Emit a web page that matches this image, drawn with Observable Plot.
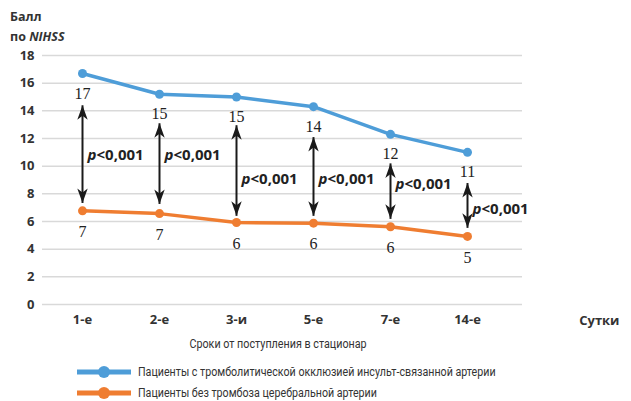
<!DOCTYPE html>
<html><head><meta charset="utf-8">
<script src="https://cdn.jsdelivr.net/npm/d3@7"></script>
<script src="https://cdn.jsdelivr.net/npm/@observablehq/plot@0.6"></script>
<style>
body{margin:0;background:#fff;}
#wrap{position:relative;width:631px;height:401px;font-family:"Open Sans",sans-serif;color:#333;}
#wrap > svg{position:absolute;left:0;top:0;}
.ytitle{position:absolute;left:10px;font-weight:bold;font-size:12.5px;line-height:20px;color:#333;}
.leg{position:absolute;left:77px;display:flex;align-items:center;font-family:Roboto,sans-serif;font-size:12px;color:#333;height:18px;white-space:nowrap;}
.leg svg{display:block;margin-right:7px;}
.leg span, .xt span{display:inline-block;transform:scaleX(0.89);transform-origin:left center;}
.xt{position:absolute;left:0;width:556px;text-align:center;top:336px;font-family:Roboto,sans-serif;font-size:12.5px;color:#333;white-space:nowrap;}
.xt span{transform:scaleX(0.86);transform-origin:center center;}
</style></head><body><div id="wrap"></div>
<script>
const days = ["1-е","2-е","3-и","5-е","7-е","14-е"];
const occlusion = [16.7,15.2,15.0,14.3,12.3,11.0];
const noThrombosis = [6.77,6.57,5.93,5.88,5.62,4.92];
const occlusionLabels = ["17","15","15","14","12","11"];
const noThrombosisLabels = ["7","7","6","6","6","5"];
const arrowTop = [14.4,13.1,12.96,12.1,10.2,8.78];
const arrowBottom = [7.34,7.27,6.41,6.41,6.19,5.54];
const pLabelY = [10.8,10.8,9.07,9.07,8.7,6.9];
const pPrefix = "p";
const pRest = "<0,001";
const yTicks = [0,2,4,6,8,10,12,14,16,18];
const seriesNames = ["Пациенты с тромболитической окклюзией инсульт-связанной артерии","Пациенты без тромбоза церебральной артерии"];
const colors = ["#4e9dd8","#ef7d31"];
const xUnit = "Сутки";
const xTitle = "Сроки от поступления в стационар";

const blue = days.map((d,i)=>({day:d, v:occlusion[i], lab:occlusionLabels[i]}));
const orange = days.map((d,i)=>({day:d, v:noThrombosis[i], lab:noThrombosisLabels[i]}));
const arrows = days.map((d,i)=>({day:d, top:arrowTop[i], bottom:arrowBottom[i], py:pLabelY[i]}));

const stealth = {draw(ctx){ctx.moveTo(0,0);ctx.lineTo(5.2,14.5);ctx.lineTo(0,10.5);ctx.lineTo(-5.2,14.5);ctx.closePath();}};
const sans = "Open Sans, sans-serif";
const serif = "Liberation Serif, serif";

const chart = Plot.plot({
  width:631, height:401,
  marginTop:55, marginBottom:97, marginLeft:42, marginRight:109,
  style:{fontFamily:sans, background:"transparent"},
  x:{type:"point", domain:days, padding:0.585, align:0.42},
  y:{domain:[0,18]},
  marks:[
    Plot.ruleY(yTicks,{stroke:"#d9d9d9", strokeWidth:1.5}),
    Plot.axisY({ticks:yTicks, tickSize:0, tickPadding:8, fontSize:13, fontWeight:"bold", fill:"#333", label:null}),
    Plot.axisX({tickSize:0, tickPadding:10, fontSize:13, fontWeight:"bold", fill:"#333", label:null}),
    Plot.text([xUnit],{frameAnchor:"bottom-right", textAnchor:"end", dx:97, dy:20, fontSize:13, fontWeight:"bold", fill:"#333"}),
    Plot.line(blue,{x:"day", y:"v", stroke:colors[0], strokeWidth:3.5}),
    Plot.dot(blue,{x:"day", y:"v", fill:colors[0], r:4.5}),
    Plot.line(orange,{x:"day", y:"v", stroke:colors[1], strokeWidth:3.5}),
    Plot.dot(orange,{x:"day", y:"v", fill:colors[1], r:4.5}),
    Plot.text(blue,{x:"day", y:"v", text:"lab", dy:20, fontSize:16, fontFamily:serif, fill:"#222"}),
    Plot.text(orange,{x:"day", y:"v", text:"lab", dy:21, fontSize:16, fontFamily:serif, fill:"#222"}),
    Plot.link(arrows,{x1:"day", x2:"day", y1:"top", y2:"bottom", stroke:"#1a1a1a", strokeWidth:2}),
    Plot.dot(arrows,{x:"day", y:"top", symbol:stealth, fill:"#1a1a1a", stroke:"none"}),
    Plot.dot(arrows,{x:"day", y:"bottom", symbol:stealth, rotate:180, fill:"#1a1a1a", stroke:"none"}),
    Plot.text(arrows,{x:"day", y:"py", text:()=>pPrefix, textAnchor:"start", dx:5, fontSize:15, fontWeight:"bold", fontStyle:"italic", fill:"#222"}),
    Plot.text(arrows,{x:"day", y:"py", text:()=>pRest, textAnchor:"start", dx:14, fontSize:15, fontWeight:"bold", fill:"#222"})
  ]
});
const wrap = document.getElementById("wrap");
wrap.appendChild(chart);

const t1 = document.createElement("div"); t1.className="ytitle"; t1.style.top="7px"; t1.textContent="Балл"; wrap.appendChild(t1);
const t2 = document.createElement("div"); t2.className="ytitle"; t2.style.top="27px"; t2.innerHTML="по <i>NIHSS</i>"; wrap.appendChild(t2);

const xt = document.createElement("div"); xt.className="xt"; xt.innerHTML="<span></span>"; xt.querySelector("span").textContent=xTitle; wrap.appendChild(xt);

seriesNames.forEach((name,i)=>{
  const row = document.createElement("div"); row.className="leg"; row.style.top=(363+i*21)+"px";
  row.innerHTML = `<svg width="54" height="18"><line x1="0" x2="54" y1="9" y2="9" stroke="${colors[i]}" stroke-width="5"/><circle cx="27" cy="9" r="6" fill="${colors[i]}"/></svg><span></span>`;
  row.querySelector("span").textContent = name;
  wrap.appendChild(row);
});
</script></body></html>
